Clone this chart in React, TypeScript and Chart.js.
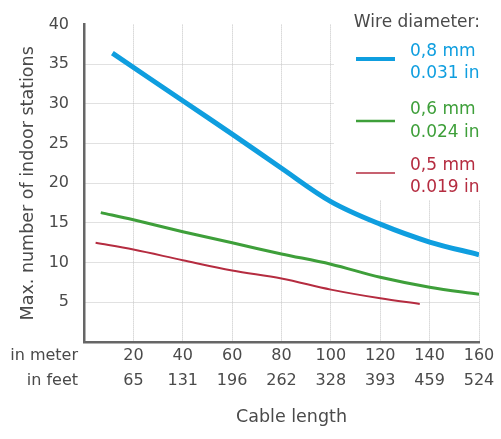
import React, { useEffect, useRef } from "react";
import { Chart, registerables } from "chart.js";

Chart.register(...registerables);

// Cable length in meters (x) and max number of indoor stations (y)
const blueMeters = [11.5, 40, 60, 80, 100, 120, 140, 160];
const blueValues = [36.4, 30.4, 26.2, 21.9, 17.7, 14.85, 12.6, 11.0];

const greenMeters = [6.8, 20, 40, 60, 80, 100, 120, 140, 160];
const greenValues = [16.3, 15.4, 13.9, 12.5, 11.1, 9.8, 8.15, 6.9, 6.0];

const redMeters = [4.7, 20, 40, 60, 80, 100, 120, 136];
const redValues = [12.5, 11.65, 10.3, 9.0, 8.0, 6.6, 5.5, 4.8];

const meterTicks = [20, 40, 60, 80, 100, 120, 140, 160];
const feetTicks = ["65", "131", "196", "262", "328", "393", "459", "524"];

const seriesNames = [
  ["0,8 mm", "0.031 in"],
  ["0,6 mm", "0.024 in"],
  ["0,5 mm", "0.019 in"],
];
const seriesColors = ["#0f9edf", "#3e9f3a", "#b52c40"];
const seriesWidths = [5, 3, 2];

const FONT = "DejaVu Sans";
const TEXT = "#4a4a4a";

const toPoints = (xs: number[], ys: number[]) => xs.map((x, i) => ({ x, y: ys[i] }));

const sideLabels = {
  id: "sideLabels",
  afterDraw(chart: any) {
    const { ctx, chartArea } = chart;
    const xs = chart.scales.x;
    ctx.save();
    ctx.font = `16px '${FONT}'`;
    ctx.fillStyle = TEXT;
    ctx.textAlign = "right";
    ctx.textBaseline = "middle";
    const base = xs.top + 1.5;
    ctx.fillText("in meter", chartArea.left - 6, base + 12.5);
    ctx.fillText("in feet", chartArea.left - 6, base + 37.5);
    // x-axis title
    ctx.textAlign = "center";
    ctx.font = `17.5px '${FONT}'`;
    ctx.fillText("Cable length", (chartArea.left + chartArea.right) / 2 + 10, xs.bottom - 22);
    ctx.restore();
  },
};

const customLegend = {
  id: "customLegend",
  beforeDatasetsDraw(chart: any) {
    const { ctx, chartArea } = chart;
    const r = chartArea.right;
    ctx.save();
    ctx.fillStyle = "#ffffff";
    ctx.fillRect(r - 145, 0, 170, 200);
    ctx.textBaseline = "middle";
    ctx.font = `17px '${FONT}'`;
    ctx.fillStyle = TEXT;
    ctx.textAlign = "right";
    ctx.fillText("Wire diameter:", r + 1, 23);
    const lineYs = [59, 121, 173];
    const textYs = [
      [52, 74],
      [110, 133],
      [166, 188],
    ];
    ctx.textAlign = "left";
    seriesNames.forEach((names, i) => {
      ctx.strokeStyle = seriesColors[i];
      ctx.lineWidth = seriesWidths[i] - (i === 0 ? 1 : 0.5);
      ctx.beginPath();
      ctx.moveTo(r - 123, lineYs[i]);
      ctx.lineTo(r - 84, lineYs[i]);
      ctx.stroke();
      ctx.fillStyle = seriesColors[i];
      ctx.fillText(names[0], r - 69, textYs[i][0]);
      ctx.fillText(names[1], r - 69, textYs[i][1]);
    });
    ctx.restore();
  },
};

export default function App() {
  const ref = useRef<HTMLCanvasElement | null>(null);

  useEffect(() => {
    document.body.style.margin = "0";
    if (!ref.current) return;
    const chart = new Chart(ref.current, {
      type: "line",
      data: {
        datasets: [
          { data: toPoints(blueMeters, blueValues) },
          { data: toPoints(greenMeters, greenValues) },
          { data: toPoints(redMeters, redValues) },
        ].map((d, i) => ({
          ...d,
          label: seriesNames[i].join(" "),
          borderColor: seriesColors[i],
          backgroundColor: seriesColors[i],
          borderWidth: seriesWidths[i],
          pointRadius: 0,
          fill: false,
          tension: 0.35,
          borderCapStyle: "butt" as const,
        })),
      },
      options: {
        responsive: false,
        animation: false,
        devicePixelRatio: 1,
        layout: { padding: { top: 18, right: 22, left: 0, bottom: 0 } },
        plugins: {
          legend: { display: false },
          tooltip: { enabled: false },
        },
        scales: {
          x: {
            type: "linear",
            min: 0,
            max: 160,
            afterBuildTicks: (scale: any) => {
              scale.ticks = meterTicks.map((v) => ({ value: v }));
            },
            afterFit: (scale: any) => {
              scale.height = 97;
            },
            ticks: {
              stepSize: 20,
              padding: 1.5,
              maxRotation: 0,
              autoSkip: false,
              color: TEXT,
              font: { family: FONT, size: 16, lineHeight: 1.5625 },
              callback: (value: any) => {
                const idx = meterTicks.indexOf(Number(value));
                return idx >= 0 ? [String(value), feetTicks[idx]] : "";
              },
            },
            grid: {
              color: "#c2c2c2",
              lineWidth: 1,
              drawTicks: false,
            },
            border: { display: true, color: "#666666", width: 2.5, dash: [1, 1] },
            title: { display: false },
          },
          y: {
            type: "linear",
            min: 0,
            max: 40,
            afterBuildTicks: (scale: any) => {
              scale.ticks = scale.ticks.filter((t: any) => t.value !== 0);
            },
            afterFit: (scale: any) => {
              scale.width = 84;
            },
            ticks: {
              stepSize: 5,
              padding: 15,
              color: TEXT,
              font: { family: FONT, size: 16 },
            },
            grid: {
              color: (c: any) => (c.tick && c.tick.value === 40 ? "rgba(0,0,0,0)" : "#c2c2c2"),
              lineWidth: 1,
              drawTicks: false,
            },
            border: { display: true, color: "#666666", width: 2.5, dash: [1, 1] },
            title: {
              display: true,
              text: "Max. number of indoor stations",
              color: TEXT,
              font: { family: FONT, size: 17.5 },
              padding: { top: 18, bottom: 0 },
            },
          },
        },
      },
      plugins: [customLegend, sideLabels],
    });
    return () => chart.destroy();
  }, []);

  return (
    <div style={{ width: 501, height: 439 }}>
      <canvas ref={ref} width={501} height={439} style={{ display: "block" }} />
    </div>
  );
}
